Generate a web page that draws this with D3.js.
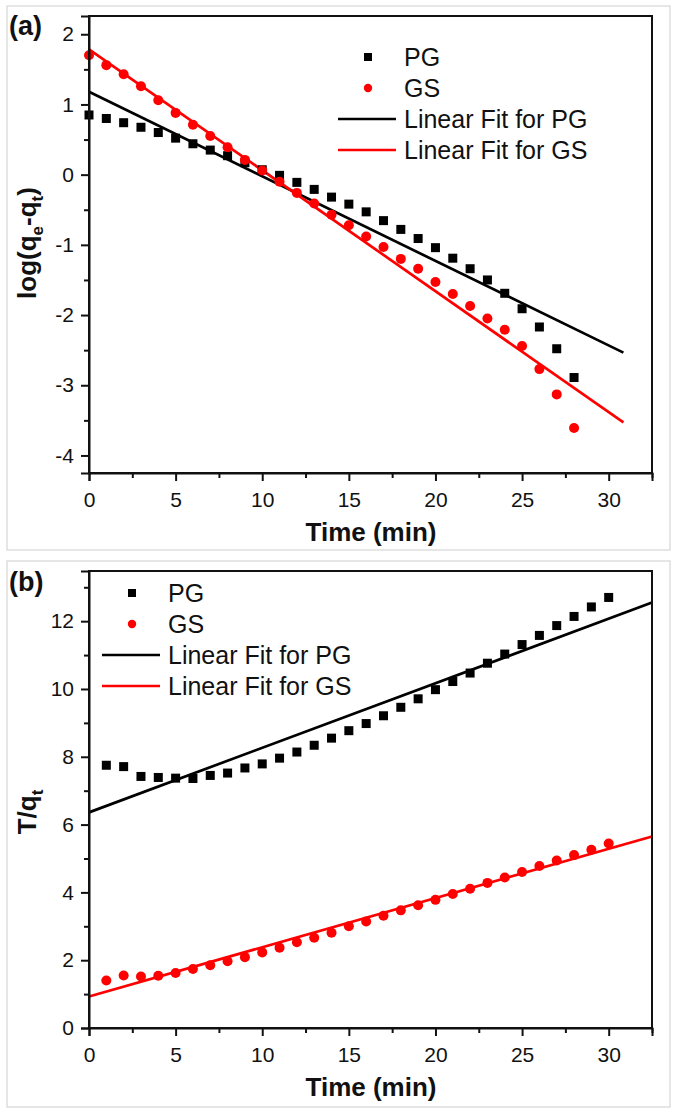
<!DOCTYPE html>
<html>
<head>
<meta charset="utf-8">
<script src="https://cdn.jsdelivr.net/npm/d3@7"></script>
<style>
  html, body { margin: 0; padding: 0; background: #fff; }
  svg { display: block; }
  text { font-family: "Liberation Sans", Arial, sans-serif; fill: #111; }
</style>
</head>
<body>
<svg id="chart" width="677" height="1114"></svg>
<script>
// ---------- DATA ----------
const xMajorTicks = [0, 5, 10, 15, 20, 25, 30];
const xMinorTicks = [2.5, 7.5, 12.5, 17.5, 22.5, 27.5, 32.5];

// Panel (a): pseudo-first-order
const timeA = [0,1,2,3,4,5,6,7,8,9,10,11,12,13,14,15,16,17,18,19,20,21,22,23,24,25,26,27,28];
const pgA = [0.85,0.80,0.74,0.675,0.60,0.52,0.44,0.35,0.27,0.17,0.07,-0.01,-0.11,-0.21,-0.32,
             -0.42,-0.53,-0.655,-0.78,-0.91,-1.04,-1.19,-1.34,-1.50,-1.69,-1.91,-2.17,-2.48,-2.89];
const gsA = [1.70,1.56,1.43,1.26,1.06,0.88,0.71,0.55,0.39,0.21,0.06,-0.10,-0.26,-0.41,-0.57,
             -0.72,-0.88,-1.03,-1.20,-1.34,-1.53,-1.70,-1.87,-2.05,-2.21,-2.44,-2.77,-3.13,-3.61];
const fitPGaX = [0, 30.85];
const fitPGaY = [1.18, -2.535];
const fitGSaX = [0, 30.85];
const fitGSaY = [1.786, -3.53];
const yMajorA = [-4, -3, -2, -1, 0, 1, 2];
const yMinorA = [-3.5, -2.5, -1.5, -0.5, 0.5, 1.5];

// Panel (b): pseudo-second-order
const timeB = [1,2,3,4,5,6,7,8,9,10,11,12,13,14,15,16,17,18,19,20,21,22,23,24,25,26,27,28,29,30];
const pgB = [7.75,7.71,7.42,7.39,7.37,7.36,7.45,7.52,7.67,7.79,7.96,8.14,8.34,8.55,8.77,
             8.98,9.21,9.46,9.71,9.98,10.22,10.47,10.76,11.03,11.31,11.58,11.87,12.14,12.42,12.70];
const gsB = [1.40,1.55,1.52,1.54,1.62,1.74,1.85,1.97,2.09,2.23,2.37,2.53,2.66,2.81,3.00,
             3.14,3.31,3.47,3.62,3.78,3.95,4.11,4.28,4.44,4.60,4.78,4.94,5.10,5.26,5.44];
const fitPGbX = [0, 32.5];
const fitPGbY = [6.36, 12.55];
const fitGSbX = [0, 32.5];
const fitGSbY = [0.93, 5.65];
const yMajorB = [0, 2, 4, 6, 8, 10, 12];
const yMinorB = [1, 3, 5, 7, 9, 11, 13];

const legendLabels = ["PG", "GS", "Linear Fit for PG", "Linear Fit for GS"];
const colPG = "#000000";
const colGS = "#ff0000";

// ---------- DRAW ----------
const svg = d3.select("#chart");
const fmt = d => String(d);

function panel(cfg) {
  const g = svg.append("g");
  // outer light frame
  g.append("rect").attr("x", cfg.frame[0]).attr("y", cfg.frame[1])
    .attr("width", cfg.frame[2]).attr("height", cfg.frame[3])
    .attr("fill", "none").attr("stroke", "#d6d6d6").attr("stroke-width", 1.2);

  const x = d3.scaleLinear().domain([0, 32.5]).range([89, 652]);
  const y = d3.scaleLinear().domain(cfg.yDomain).range([cfg.bottom, cfg.top]);

  // fit lines
  const line = d3.line().x(d => x(d[0])).y(d => y(d[1]));
  g.append("path").datum(d3.zip(cfg.fitPGX, cfg.fitPGY)).attr("d", line)
    .attr("fill", "none").attr("stroke", colPG).attr("stroke-width", 2.7);
  g.append("path").datum(d3.zip(cfg.fitGSX, cfg.fitGSY)).attr("d", line)
    .attr("fill", "none").attr("stroke", colGS).attr("stroke-width", 2.7);

  // scatter
  const s = 9;
  g.append("g").selectAll("rect").data(d3.zip(cfg.timePG, cfg.pg)).join("rect")
    .attr("x", d => x(d[0]) - s / 2).attr("y", d => y(d[1]) - s / 2)
    .attr("width", s).attr("height", s).attr("fill", colPG);
  g.append("g").selectAll("circle").data(d3.zip(cfg.timeGS, cfg.gs)).join("circle")
    .attr("cx", d => x(d[0])).attr("cy", d => y(d[1])).attr("r", 5).attr("fill", colGS);

  // frame top/right
  g.append("rect").attr("x", 89).attr("y", cfg.top).attr("width", 652 - 89)
    .attr("height", cfg.bottom - cfg.top).attr("fill", "none")
    .attr("stroke", "#111").attr("stroke-width", 2);

  // axes
  const xAx = g.append("g").attr("transform", `translate(0,${cfg.bottom})`)
    .call(d3.axisBottom(x).tickValues(xMajorTicks).tickSize(8).tickPadding(11).tickFormat(fmt));
  const xMin = g.append("g").attr("transform", `translate(0,${cfg.bottom})`)
    .call(d3.axisBottom(x).tickValues(xMinorTicks).tickSize(5).tickFormat(""));
  const yAx = g.append("g").attr("transform", `translate(89,0)`)
    .call(d3.axisLeft(y).tickValues(cfg.yMajor).tickSize(8).tickPadding(7).tickFormat(fmt));
  const yMin = g.append("g").attr("transform", `translate(89,0)`)
    .call(d3.axisLeft(y).tickValues(cfg.yMinor).tickSize(5).tickFormat(""));
  [xAx, xMin, yAx, yMin].forEach(a => {
    a.select(".domain").attr("stroke", "#111").attr("stroke-width", 2);
    a.selectAll(".tick line").attr("stroke", "#111").attr("stroke-width", 2);
    a.selectAll(".tick text").attr("font-size", 21).attr("font-family", "Liberation Sans, Arial, sans-serif").attr("fill", "#1a1a1a");
  });
  xMin.select(".domain").remove();
  yMin.select(".domain").remove();

  // x title
  g.append("text").attr("x", 371).attr("y", cfg.bottom + 68)
    .attr("text-anchor", "middle").attr("font-size", 26).attr("font-weight", "bold")
    .text("Time (min)");

  // y title
  const yt = g.append("text")
    .attr("transform", `translate(${cfg.yTitleX},${cfg.yTitleY}) rotate(-90)`)
    .attr("text-anchor", "middle").attr("font-size", 26).attr("font-weight", "bold");
  cfg.yTitle(yt);

  // panel label
  g.append("text").attr("x", 9).attr("y", cfg.labelY).attr("font-size", 27)
    .attr("font-weight", "bold").text(cfg.label);

  // legend
  const lg = g.append("g");
  const rows = legendLabels.map((t, i) => ({ t, i }));
  lg.selectAll("text").data(rows).join("text")
    .attr("x", cfg.legX + 36).attr("y", d => cfg.legY + d.i * 31 + 9)
    .attr("font-size", 25).attr("fill", "#111").text(d => d.t);
  lg.append("rect").attr("x", cfg.legX - 4).attr("y", cfg.legY - 4).attr("width", 8).attr("height", 8).attr("fill", colPG);
  lg.append("circle").attr("cx", cfg.legX).attr("cy", cfg.legY + 31).attr("r", 4.2).attr("fill", colGS);
  lg.append("line").attr("x1", cfg.legX - 30).attr("x2", cfg.legX + 28)
    .attr("y1", cfg.legY + 62).attr("y2", cfg.legY + 62).attr("stroke", colPG).attr("stroke-width", 2.7);
  lg.append("line").attr("x1", cfg.legX - 30).attr("x2", cfg.legX + 28)
    .attr("y1", cfg.legY + 93).attr("y2", cfg.legY + 93).attr("stroke", colGS).attr("stroke-width", 2.7);
}

panel({
  frame: [7, 6, 663, 544],
  yDomain: [-4.25, 2.26], top: 16, bottom: 473,
  timePG: timeA, pg: pgA, timeGS: timeA, gs: gsA,
  fitPGX: fitPGaX, fitPGY: fitPGaY, fitGSX: fitGSaX, fitGSY: fitGSaY,
  yMajor: yMajorA, yMinor: yMinorA,
  yTitleX: 36, yTitleY: 243,
  yTitle: t => {
    t.append("tspan").text("log(q");
    t.append("tspan").attr("font-size", 17).attr("dy", 7).text("e");
    t.append("tspan").attr("dy", -7).text("-q");
    t.append("tspan").attr("font-size", 17).attr("dy", 7).text("t");
    t.append("tspan").attr("dy", -7).text(")");
  },
  label: "(a)", labelY: 35,
  legX: 368, legY: 57
});

panel({
  frame: [7, 561, 663, 546],
  yDomain: [0, 13.48], top: 571, bottom: 1028,
  timePG: timeB, pg: pgB, timeGS: timeB, gs: gsB,
  fitPGX: fitPGbX, fitPGY: fitPGbY, fitGSX: fitGSbX, fitGSY: fitGSbY,
  yMajor: yMajorB, yMinor: yMinorB,
  yTitleX: 36, yTitleY: 812,
  yTitle: t => {
    t.append("tspan").text("T/q");
    t.append("tspan").attr("font-size", 17).attr("dy", 7).text("t");
  },
  label: "(b)", labelY: 591,
  legX: 132, legY: 593
});
</script>
</body>
</html>
